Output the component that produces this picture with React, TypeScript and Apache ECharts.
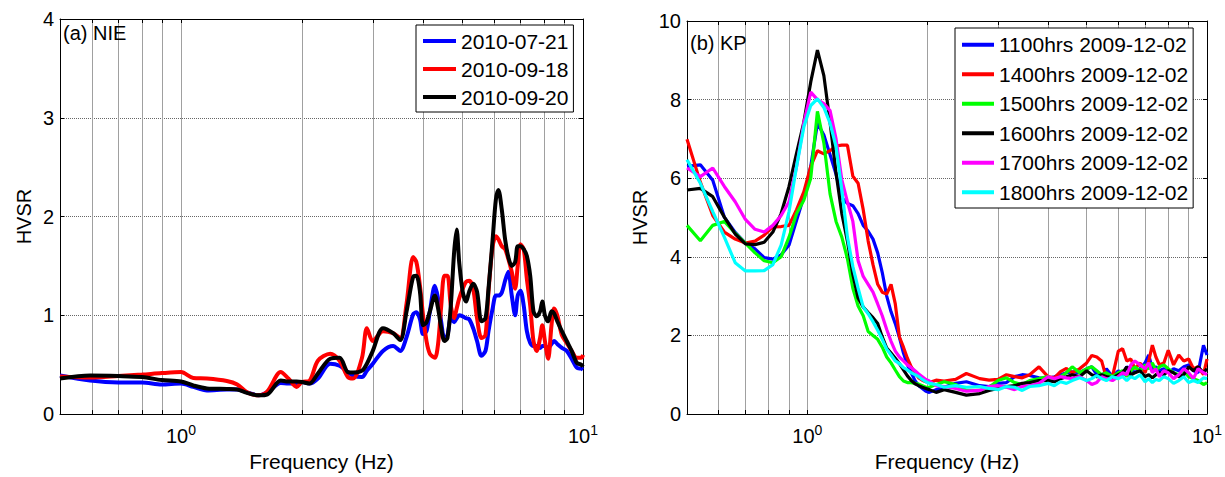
import React, { useEffect, useRef } from "react";
import * as echarts from "echarts";

const FONT = "'Liberation Sans', Arial, Helvetica, sans-serif";

// ---------- Panel (a) NIE ----------
const nieFreq = [0.5, 0.594, 0.698, 0.80, 0.895, 1.0, 1.073, 1.16, 1.30, 1.38, 1.46, 1.56, 1.64, 1.77, 1.85, 1.94, 2.0, 2.09, 2.19, 2.35, 2.48, 2.6, 2.68, 2.82, 2.9, 3.0, 3.18, 3.37, 3.51, 3.64, 3.78, 3.85, 3.93, 4.0, 4.08, 4.16, 4.28, 4.36, 4.44, 4.52, 4.6, 4.69, 4.78, 4.85, 4.92, 5.02, 5.12, 5.21, 5.33, 5.45, 5.59, 5.72, 5.82, 5.96, 6.07, 6.16, 6.28, 6.4, 6.52, 6.65, 6.78, 6.88, 6.99, 7.12, 7.25, 7.39, 7.53, 7.67, 7.82, 7.92, 8.04, 8.19, 8.35, 8.47, 8.63, 8.86, 9.11, 9.37, 9.65, 9.9, 10];
const nie20100721 = [0.39, 0.34, 0.32, 0.32, 0.30, 0.31, 0.275, 0.24, 0.25, 0.25, 0.22, 0.19, 0.22, 0.315, 0.31, 0.31, 0.325, 0.31, 0.36, 0.51, 0.49, 0.425, 0.39, 0.375, 0.44, 0.51, 0.64, 0.69, 0.64, 0.78, 1.01, 1.03, 0.96, 0.81, 0.84, 1.04, 1.30, 1.17, 0.93, 0.77, 0.80, 0.97, 0.93, 0.97, 1.0, 0.99, 0.97, 0.96, 0.87, 0.74, 0.59, 0.64, 0.84, 1.07, 1.20, 1.20, 1.23, 1.35, 1.44, 1.20, 1.0, 1.20, 1.25, 1.10, 0.84, 0.72, 0.69, 0.69, 0.67, 0.69, 0.69, 0.67, 0.71, 0.74, 0.71, 0.67, 0.64, 0.56, 0.47, 0.46, 0.45];
const nie20100918 = [0.38, 0.37, 0.385, 0.40, 0.415, 0.425, 0.365, 0.36, 0.335, 0.30, 0.22, 0.19, 0.23, 0.425, 0.36, 0.275, 0.325, 0.34, 0.54, 0.61, 0.54, 0.375, 0.36, 0.57, 0.87, 0.74, 0.84, 0.82, 0.77, 1.12, 1.59, 1.54, 1.30, 1.0, 0.74, 0.61, 0.57, 0.71, 1.10, 1.40, 1.40, 1.10, 0.97, 1.07, 1.17, 1.27, 1.34, 1.35, 1.27, 0.97, 0.77, 0.80, 1.24, 1.70, 1.80, 1.77, 1.70, 1.67, 1.57, 1.44, 1.27, 1.50, 1.72, 1.67, 1.37, 1.10, 0.74, 0.64, 0.77, 0.90, 0.74, 0.56, 0.90, 1.07, 1.0, 0.80, 0.72, 0.64, 0.57, 0.57, 0.60];
const nie20100920 = [0.36, 0.39, 0.385, 0.375, 0.345, 0.33, 0.29, 0.26, 0.255, 0.25, 0.215, 0.19, 0.20, 0.34, 0.33, 0.33, 0.325, 0.31, 0.41, 0.56, 0.57, 0.425, 0.42, 0.44, 0.51, 0.64, 0.87, 0.82, 0.75, 1.04, 1.39, 1.40, 1.24, 0.90, 0.93, 1.04, 1.20, 1.07, 0.87, 0.74, 0.77, 1.10, 1.64, 1.87, 1.54, 1.24, 1.14, 1.24, 1.32, 1.24, 0.94, 0.97, 1.27, 1.77, 2.17, 2.27, 2.07, 1.77, 1.59, 1.50, 1.54, 1.70, 1.70, 1.67, 1.60, 1.40, 1.04, 0.99, 1.04, 1.14, 1.0, 0.94, 1.04, 1.02, 0.94, 0.84, 0.74, 0.64, 0.52, 0.50, 0.48];
const nieNames = ["2010-07-21", "2010-09-18", "2010-09-20"];
const nieColors = ["#0000ff", "#ff0000", "#000000"];

// ---------- Panel (b) KP ----------
const kpFreqLow = [0.50, 0.54, 0.58, 0.62, 0.66, 0.70, 0.74, 0.78, 0.82, 0.86, 0.90, 0.94, 0.98, 1.02, 1.06, 1.10, 1.14, 1.18, 1.22, 1.26, 1.30, 1.34, 1.38, 1.42, 1.46, 1.50, 1.54, 1.58, 1.62, 1.66, 1.70, 1.74, 1.78, 1.82, 1.86, 1.90, 1.94, 1.98, 2.02];
const kpFreqHigh = [2.1, 2.2, 2.35, 2.5, 2.7, 2.85, 3.0, 3.15, 3.3, 3.45, 3.6, 3.8, 4.0, 4.15, 4.3, 4.45, 4.6, 4.8, 5.0, 5.15, 5.3, 5.45, 5.6, 5.8, 6.0, 6.15, 6.3, 6.45, 6.6, 6.8, 7.0, 7.15, 7.3, 7.45, 7.6, 7.8, 8.0, 8.25, 8.5, 8.75, 9.0, 9.25, 9.5, 9.8, 10.0];

const kp1100Low = [6.30, 6.34, 5.95, 5.01, 4.62, 4.35, 4.20, 3.98, 3.94, 4.05, 4.30, 4.93, 5.53, 6.30, 7.40, 7.10, 6.60, 6.10, 5.50, 5.36, 5.30, 5.10, 4.80, 4.65, 4.45, 4.10, 3.60, 3.00, 2.60, 2.30, 1.95, 1.55, 1.25, 1.05, 0.85, 0.72, 0.65, 0.58, 0.55];
const kp1100High = [0.62, 0.68, 0.78, 0.82, 0.72, 0.70, 0.78, 0.80, 0.95, 1.00, 0.98, 0.92, 0.90, 0.95, 1.00, 1.05, 1.07, 1.05, 1.15, 1.20, 1.00, 0.92, 1.15, 0.95, 1.10, 1.00, 1.20, 1.15, 1.05, 1.15, 1.30, 1.50, 1.15, 1.20, 1.10, 1.15, 1.05, 1.15, 1.10, 1.20, 1.25, 1.10, 1.05, 1.75, 1.50];
const kp1400Low = [6.99, 5.90, 5.05, 4.63, 4.45, 4.35, 4.40, 4.55, 4.76, 4.77, 4.80, 5.20, 5.65, 6.30, 6.70, 6.62, 6.70, 6.82, 6.84, 6.84, 6.05, 5.87, 5.20, 4.40, 3.80, 3.30, 3.10, 3.05, 3.30, 2.80, 1.96, 1.70, 1.42, 1.20, 1.05, 0.92, 0.86, 0.82, 0.80];
const kp1400High = [0.86, 0.84, 0.88, 1.03, 0.90, 0.86, 0.88, 1.00, 0.95, 0.92, 1.00, 1.20, 0.95, 0.92, 1.08, 1.16, 1.05, 1.15, 1.30, 1.49, 1.45, 1.35, 0.92, 0.95, 1.60, 1.66, 1.35, 1.40, 1.15, 1.30, 1.05, 1.35, 1.75, 1.45, 1.25, 1.30, 1.62, 1.25, 1.50, 1.35, 1.40, 1.15, 1.20, 1.00, 1.40];
const kp1500Low = [4.80, 4.41, 4.80, 4.90, 4.60, 4.35, 4.10, 3.90, 3.85, 4.00, 4.50, 5.10, 5.44, 6.00, 7.70, 6.90, 5.60, 4.90, 4.50, 3.95, 3.20, 2.75, 2.50, 2.10, 2.00, 1.90, 1.70, 1.45, 1.30, 1.12, 0.95, 0.84, 0.80, 0.80, 0.78, 0.76, 0.72, 0.68, 0.68];
const kp1500High = [0.75, 0.82, 0.75, 0.60, 0.60, 0.68, 0.85, 0.92, 0.80, 0.75, 0.85, 0.90, 0.95, 0.85, 0.95, 1.05, 1.20, 1.05, 1.15, 1.20, 1.10, 1.00, 1.05, 0.95, 1.05, 1.10, 0.95, 1.10, 1.20, 1.10, 1.25, 1.15, 1.30, 1.10, 1.20, 1.25, 1.15, 1.05, 1.00, 1.10, 0.95, 0.90, 0.85, 0.75, 0.80];
const kp1600Low = [5.70, 5.74, 5.53, 5.01, 4.58, 4.33, 4.31, 4.37, 4.63, 5.10, 5.79, 6.64, 7.42, 8.45, 9.26, 8.61, 7.42, 6.13, 5.10, 4.40, 3.55, 2.95, 2.72, 2.58, 2.45, 2.30, 1.96, 1.68, 1.55, 1.42, 1.28, 1.12, 0.97, 0.85, 0.77, 0.72, 0.68, 0.65, 0.62];
const kp1600High = [0.55, 0.62, 0.55, 0.48, 0.52, 0.60, 0.65, 0.70, 0.72, 0.78, 0.80, 0.85, 0.85, 0.82, 0.90, 0.95, 1.00, 0.95, 1.10, 1.00, 0.95, 1.00, 0.95, 0.92, 1.00, 1.05, 1.20, 1.00, 1.05, 1.10, 0.95, 1.00, 0.92, 1.00, 1.05, 1.00, 1.10, 1.05, 0.95, 1.00, 1.20, 1.10, 1.20, 1.05, 1.15];
const kp1700Low = [6.26, 6.04, 6.26, 5.79, 5.40, 4.95, 4.70, 4.63, 4.80, 5.05, 5.40, 6.30, 7.40, 8.19, 8.00, 7.90, 7.72, 7.00, 5.96, 5.40, 4.90, 3.90, 3.50, 3.30, 3.10, 2.80, 2.50, 2.15, 1.85, 1.60, 1.45, 1.35, 1.25, 1.18, 1.10, 1.02, 0.95, 0.88, 0.84];
const kp1700High = [0.72, 0.70, 0.65, 0.58, 0.60, 0.70, 0.72, 0.68, 0.62, 0.70, 0.72, 0.78, 0.95, 0.90, 0.95, 0.92, 0.90, 0.95, 0.85, 0.75, 0.80, 0.95, 0.90, 0.85, 0.95, 1.05, 1.00, 1.25, 1.35, 1.25, 1.15, 1.30, 1.05, 1.15, 0.95, 1.10, 1.05, 0.90, 1.00, 1.15, 1.05, 0.90, 1.15, 1.05, 1.00];
const kp1800Low = [6.47, 5.87, 5.15, 4.50, 3.85, 3.64, 3.64, 3.65, 3.80, 4.30, 5.15, 6.30, 7.30, 7.85, 8.02, 7.80, 7.40, 6.80, 5.70, 4.50, 3.75, 3.20, 2.72, 2.55, 2.35, 2.13, 1.90, 1.65, 1.50, 1.35, 1.28, 1.18, 1.12, 1.05, 1.00, 0.95, 0.88, 0.82, 0.78];
const kp1800High = [0.75, 0.68, 0.72, 0.68, 0.70, 0.65, 0.62, 0.70, 0.68, 0.60, 0.70, 0.72, 0.78, 0.72, 0.82, 0.78, 0.85, 0.92, 0.85, 0.90, 0.98, 0.90, 0.85, 0.95, 0.90, 0.95, 0.85, 0.95, 0.90, 1.00, 0.82, 0.90, 0.80, 0.88, 0.85, 0.95, 0.90, 0.78, 0.85, 0.95, 0.80, 0.85, 0.80, 0.92, 0.90];

const kpNames = ["1100hrs 2009-12-02", "1400hrs 2009-12-02", "1500hrs 2009-12-02", "1600hrs 2009-12-02", "1700hrs 2009-12-02", "1800hrs 2009-12-02"];
const kpColors = ["#0000ff", "#ff0000", "#00ff00", "#000000", "#ff00ff", "#00ffff"];

// axis ticks (Hz)
const xTickValues = [0.6, 0.7, 0.8, 0.9, 1, 2, 3, 4, 5, 6, 7, 8, 9];
const xLabelValues = [1, 10];

const lg = (v: number) => Math.log10(v);
const pairs = (f: number[], v: number[]) => f.map((x, i) => [lg(x), v[i]]);

function xAxesFor(gridIndex: number) {
  const common: any = {
    type: "value",
    gridIndex,
    min: lg(0.5),
    max: 1,
    axisLine: { show: true, onZero: false, lineStyle: { color: "#000", width: 1 } },
    axisTick: {
      show: true,
      inside: true,
      length: 4,
      customValues: xTickValues.map(lg),
      lineStyle: { color: "#000" },
    },
  };
  return [
    {
      ...common,
      position: "bottom",
      splitLine: { show: true, lineStyle: { color: "#a0a0a0", type: "solid", width: 1 } },
      axisLabel: {
        show: true,
        customValues: xLabelValues.map(lg),
        margin: 9,
        formatter: (v: number) => "{b|10}{s|" + Math.round(v) + "}",
        rich: {
          b: { fontSize: 20, fontFamily: FONT, color: "#000" },
          s: { fontSize: 14, fontFamily: FONT, color: "#000", padding: [0, 0, 12, 0] },
        },
      },
      name: "Frequency (Hz)",
      nameLocation: "middle",
      nameGap: 30,
      nameTextStyle: { fontSize: 21, fontFamily: FONT, color: "#000" },
    },
    {
      ...common,
      position: "top",
      axisLabel: { show: false },
      splitLine: { show: false },
    },
  ];
}

function yAxesFor(gridIndex: number, max: number, interval: number, nameGap: number) {
  const common: any = {
    type: "value",
    gridIndex,
    min: 0,
    max,
    interval,
    axisLine: { show: true, onZero: false, lineStyle: { color: "#000", width: 1 } },
    axisTick: { show: true, inside: true, length: 4, lineStyle: { color: "#000" } },
  };
  return [
    {
      ...common,
      position: "left",
      axisLabel: { show: true, margin: 6, fontSize: 20, fontFamily: FONT, color: "#000" },
      splitLine: { show: true, lineStyle: { color: "#666", type: "dotted", width: 1 } },
      name: "HVSR",
      nameLocation: "middle",
      nameGap,
      nameRotate: 90,
      nameTextStyle: { fontSize: 20, fontFamily: FONT, color: "#000" },
    },
    {
      ...common,
      position: "right",
      axisLabel: { show: false },
      splitLine: { show: false },
    },
  ];
}

const legendBase: any = {
  orient: "vertical",
  itemGap: 0,
  itemHeight: 4,
  icon: "rect",
  borderColor: "#000",
  borderWidth: 1,
  backgroundColor: "#fff",
  selectedMode: false,
};

export default function App() {
  const ref = useRef<HTMLDivElement>(null);

  useEffect(() => {
    if (!ref.current) return;
    const chart = echarts.init(ref.current, undefined, { renderer: "svg" });

    const nieData = [nie20100721, nie20100918, nie20100920];
    const kpLow = [kp1100Low, kp1400Low, kp1500Low, kp1600Low, kp1700Low, kp1800Low];
    const kpHigh = [kp1100High, kp1400High, kp1500High, kp1600High, kp1700High, kp1800High];
    const kpFreq = [...kpFreqLow, ...kpFreqHigh];

    const series: any[] = [];
    nieNames.forEach((name, i) => {
      series.push({
        type: "line",
        name,
        xAxisIndex: 0,
        yAxisIndex: 0,
        data: pairs(nieFreq, nieData[i]),
        symbol: "none",
        smooth: 0.3,
        lineStyle: { width: 4, color: nieColors[i] },
        itemStyle: { color: nieColors[i] },
        z: 3 + i,
      });
    });
    kpNames.forEach((name, i) => {
      series.push({
        type: "line",
        name,
        xAxisIndex: 2,
        yAxisIndex: 2,
        data: pairs(kpFreq, [...kpLow[i], ...kpHigh[i]]),
        symbol: "none",
        lineStyle: { width: 3.2, color: kpColors[i] },
        itemStyle: { color: kpColors[i] },
        z: 3 + i,
      });
    });

    chart.setOption({
      animation: false,
      backgroundColor: "#fff",
      textStyle: { fontFamily: FONT },
      grid: [
        { left: 60, right: 1225 - 583, top: 19, bottom: 477 - 421, containLabel: false },
        { left: 687, right: 1225 - 1208, top: 21, bottom: 477 - 414, containLabel: false },
      ],
      xAxis: [...xAxesFor(0), ...xAxesFor(1)],
      yAxis: [...yAxesFor(0, 4, 1, 26), ...yAxesFor(1, 10, 2, 37)],
      legend: [
        {
          ...legendBase,
          data: nieNames,
          left: 416,
          top: 25,
          padding: [2, 5, 1, 7],
          itemWidth: 33,
          textStyle: { fontSize: 21, fontFamily: FONT, color: "#000", lineHeight: 28 },
        },
        {
          ...legendBase,
          data: kpNames,
          left: 955,
          top: 28,
          padding: [2, 5, 1, 7],
          itemWidth: 32,
          textStyle: { fontSize: 21, fontFamily: FONT, color: "#000", lineHeight: 29.5 },
        },
      ],
      graphic: [
        {
          type: "text",
          left: 63,
          top: 23,
          style: { text: "(a) NIE", fontSize: 20, fontFamily: FONT, fill: "#000" },
          z: 100,
        },
        {
          type: "text",
          left: 690,
          top: 33,
          style: { text: "(b) KP", fontSize: 20, fontFamily: FONT, fill: "#000" },
          z: 100,
        },
      ],
      series,
    });

    return () => chart.dispose();
  }, []);

  return (
    <div
      ref={ref}
      style={{ position: "fixed", left: 0, top: 0, width: 1225, height: 477, background: "#fff" }}
    />
  );
}
